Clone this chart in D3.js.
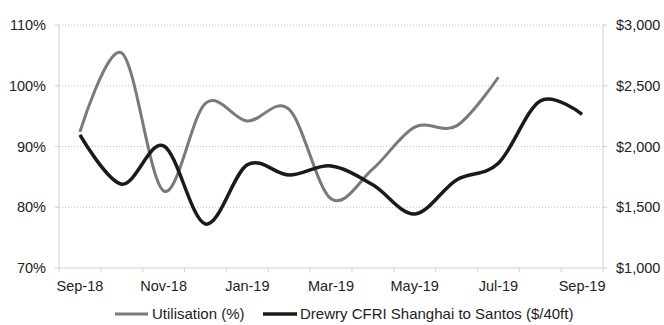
<!DOCTYPE html>
<html>
<head>
<meta charset="utf-8">
<script src="https://cdn.jsdelivr.net/npm/d3@7"></script>
<style>
  body { margin: 0; background: #fff; }
  text { font-family: "Liberation Sans", Arial, sans-serif; fill: #222; }
</style>
</head>
<body>
<div class="content"></div>
<script>
// data
var months = ["Sep-18","Oct-18","Nov-18","Dec-18","Jan-19","Feb-19","Mar-19",
              "Apr-19","May-19","Jun-19","Jul-19","Aug-19","Sep-19"];
var utilisation = [92.4, 105.4, 82.7, 97.1, 94.2, 96.1, 81.4, 86.3, 93.2, 93.4, 101.4, null, null];
var freight = [2095, 1690, 2005, 1362, 1850, 1765, 1840, 1685, 1445, 1725, 1862, 2375, 2265];
var leftTicks = [70, 80, 90, 100, 110];
var rightTicks = [1000, 1500, 2000, 2500, 3000];
var labelMonths = ["Sep-18","Nov-18","Jan-19","Mar-19","May-19","Jul-19","Sep-19"];

var W = 664, H = 325;
var plot = {left: 59, right: 603, top: 25, bottom: 268};

var svg = d3.select(".content")
    .append("svg")
    .attr("width", W)
    .attr("height", H);

var x = d3.scaleBand()
    .domain(months)
    .range([plot.left, plot.right]);

var yL = d3.scaleLinear().domain([70, 110]).range([plot.bottom, plot.top]);
var yR = d3.scaleLinear().domain([1000, 3000]).range([plot.bottom, plot.top]);

// dotted gridlines
svg.append("g")
    .selectAll("line")
    .data(leftTicks.slice(1))
    .enter().append("line")
    .attr("x1", plot.left).attr("x2", plot.right)
    .attr("y1", function(d) { return yL(d); })
    .attr("y2", function(d) { return yL(d); })
    .attr("stroke", "#c4c4c4")
    .attr("stroke-width", 1)
    .attr("stroke-dasharray", "1,2");

// axis lines
svg.append("line")
    .attr("x1", plot.left).attr("x2", plot.left)
    .attr("y1", plot.top).attr("y2", plot.bottom)
    .attr("stroke", "#d0d0d0");
svg.append("line")
    .attr("x1", plot.right).attr("x2", plot.right)
    .attr("y1", plot.top).attr("y2", plot.bottom)
    .attr("stroke", "#d0d0d0");
svg.append("line")
    .attr("x1", plot.left).attr("x2", plot.right)
    .attr("y1", plot.bottom).attr("y2", plot.bottom)
    .attr("stroke", "#d0d0d0");

// small tick marks at category boundaries
var bounds = months.map(function(m) { return x(m); }).concat([plot.right]);
svg.append("g")
    .selectAll("line")
    .data(bounds)
    .enter().append("line")
    .attr("x1", function(d) { return d; })
    .attr("x2", function(d) { return d; })
    .attr("y1", plot.bottom)
    .attr("y2", plot.bottom + 4)
    .attr("stroke", "#d0d0d0");

// ticks on the value axes
[plot.left, plot.right].forEach(function(px) {
    svg.append("g")
        .selectAll("line")
        .data(leftTicks)
        .enter().append("line")
        .attr("x1", px === plot.left ? px - 4 : px)
        .attr("x2", px === plot.left ? px : px + 4)
        .attr("y1", function(d) { return yL(d); })
        .attr("y2", function(d) { return yL(d); })
        .attr("stroke", "#d0d0d0");
});

// x labels
svg.append("g")
    .selectAll("text")
    .data(labelMonths)
    .enter().append("text")
    .attr("x", function(d) { return x(d) + x.bandwidth() / 2; })
    .attr("y", 291)
    .attr("text-anchor", "middle")
    .style("font-size", "14.5px")
    .text(function(d) { return d; });

// left labels
svg.append("g")
    .selectAll("text")
    .data(leftTicks)
    .enter().append("text")
    .attr("x", 46)
    .attr("y", function(d) { return yL(d) + 5; })
    .attr("text-anchor", "end")
    .style("font-size", "14.5px")
    .text(function(d) { return d + "%"; });

// right labels
var fmt = d3.format(",");
svg.append("g")
    .selectAll("text")
    .data(rightTicks)
    .enter().append("text")
    .attr("x", 616)
    .attr("y", function(d) { return yR(d) + 5; })
    .attr("text-anchor", "start")
    .style("font-size", "14.5px")
    .text(function(d) { return "$" + fmt(d); });

var cx = function(d, i) { return x(months[i]) + x.bandwidth() / 2; };

// Utilisation line
svg.append("path")
    .datum(utilisation)
    .attr("fill", "none")
    .attr("stroke", "#7a7a7a")
    .attr("stroke-width", 3)
    .attr("d", d3.line()
        .defined(function(d) { return d != null; })
        .curve(d3.curveCardinal.tension(0))
        .x(cx)
        .y(function(d) { return yL(d); })
    );

// Freight line
svg.append("path")
    .datum(freight)
    .attr("fill", "none")
    .attr("stroke", "#1a1a1a")
    .attr("stroke-width", 3.5)
    .attr("d", d3.line()
        .curve(d3.curveCardinal.tension(0))
        .x(cx)
        .y(function(d) { return yR(d); })
    );

// legend
var ly = 314;
svg.append("line")
    .attr("x1", 115).attr("x2", 148)
    .attr("y1", ly).attr("y2", ly)
    .attr("stroke", "#7a7a7a").attr("stroke-width", 3);
svg.append("text")
    .attr("x", 152).attr("y", ly + 5)
    .style("font-size", "15px")
    .text("Utilisation (%)");
svg.append("line")
    .attr("x1", 263).attr("x2", 297)
    .attr("y1", ly).attr("y2", ly)
    .attr("stroke", "#1a1a1a").attr("stroke-width", 3.5);
svg.append("text")
    .attr("x", 300).attr("y", ly + 5)
    .style("font-size", "15px")
    .text("Drewry CFRI Shanghai to Santos ($/40ft)");
</script>
</body>
</html>
